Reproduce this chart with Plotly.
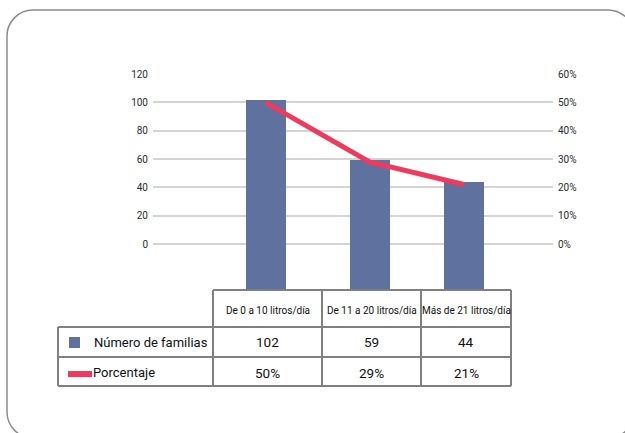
import plotly.graph_objects as go

# ---- data -------------------------------------------------------------
categorias = ["De 0 a 10 litros/día", "De 11 a 20 litros/día", "Más de 21 litros/día"]
familias = [102, 59, 44]
porcentaje = [50, 29, 21]
ticks_familias = [0, 20, 40, 60, 80, 100, 120]
ticks_porcentaje = [0, 10, 20, 30, 40, 50, 60]
series = ["Número de familias", "Porcentaje"]

# ---- layout constants (pixels) ---------------------------------------
W, H = 625, 433
BAR_COLOR = "#5f729f"
LINE_COLOR = "#ef3a5d"
GRID_COLOR = "#d4d4d4"
TABLE_LINE = "#808080"
FONT = "Roboto"


def px(x):
    return x / W


def py(y):
    return 1 - y / H


plot_left, plot_right = 153, 553
plot_top, plot_bottom = 74, 290
zero_px = 244

col_edges = [58, 213, 322, 421, 511]
row_edges = [290, 327, 357, 386]
col_centers = [(col_edges[i + 1] + col_edges[i + 2]) / 2 for i in range(len(categorias))]
bar_x = [c - 2 for c in col_centers]

# value axis: top tick at plot_top, zero at zero_px, bars run down to the table
y_top = ticks_familias[-1]
y_lo = -y_top * (plot_bottom - zero_px) / (zero_px - plot_top)
y2_top = ticks_porcentaje[-1]
y2_lo = y_lo * y2_top / y_top

fig = go.Figure()

fig.add_trace(go.Bar(
    x=bar_x,
    y=[v - y_lo for v in familias],
    base=y_lo,
    width=40,
    marker=dict(color=BAR_COLOR, line=dict(width=0)),
    name=series[0],
    customdata=familias,
    hovertemplate="%{customdata}<extra></extra>",
))

fig.add_trace(go.Scatter(
    x=bar_x,
    y=porcentaje,
    yaxis="y2",
    mode="lines",
    line=dict(color=LINE_COLOR, width=5),
    name=series[1],
    hovertemplate="%{y}%<extra></extra>",
))

shapes = []


def hline(x0, x1, y):
    shapes.append(dict(type="line", xref="paper", yref="paper",
                       x0=px(x0), x1=px(x1), y0=py(y), y1=py(y),
                       line=dict(color=TABLE_LINE, width=2)))


def vline(x, y0, y1):
    shapes.append(dict(type="line", xref="paper", yref="paper",
                       x0=px(x), x1=px(x), y0=py(y0), y1=py(y1),
                       line=dict(color=TABLE_LINE, width=2)))


# table grid: header row has no label cell
hline(col_edges[1], col_edges[-1], row_edges[0])
for r in row_edges[1:]:
    hline(col_edges[0], col_edges[-1], r)
vline(col_edges[0], row_edges[1], row_edges[-1])
for c in col_edges[1:]:
    vline(c, row_edges[0], row_edges[-1])

# legend keys inside the table
shapes.append(dict(type="rect", xref="paper", yref="paper",
                   x0=px(69), x1=px(80), y0=py(348), y1=py(337),
                   fillcolor=BAR_COLOR, line=dict(width=0)))
shapes.append(dict(type="rect", xref="paper", yref="paper",
                   x0=px(68), x1=px(92), y0=py(377), y1=py(371),
                   fillcolor=LINE_COLOR, line=dict(width=0)))

# rounded outer frame
L, T, R, B, rad = 7, 10, 634, 438, 26
k = rad * 0.5523


def P(x, y):
    return f"{px(x):.5f},{py(y):.5f}"


frame = (
    f"M {P(L + rad, T)} L {P(R - rad, T)} "
    f"C {P(R - rad + k, T)} {P(R, T + rad - k)} {P(R, T + rad)} "
    f"L {P(R, B - rad)} "
    f"C {P(R, B - rad + k)} {P(R - rad + k, B)} {P(R - rad, B)} "
    f"L {P(L + rad, B)} "
    f"C {P(L + rad - k, B)} {P(L, B - rad + k)} {P(L, B - rad)} "
    f"L {P(L, T + rad)} "
    f"C {P(L, T + rad - k)} {P(L + rad - k, T)} {P(L + rad, T)} Z"
)
shapes.append(dict(type="path", xref="paper", yref="paper", path=frame,
                   line=dict(color="#8c8c8c", width=1.5)))

annotations = []


def text(x, y, s, size, anchor="center"):
    annotations.append(dict(xref="paper", yref="paper", x=px(x), y=py(y),
                            text=s, showarrow=False, xanchor=anchor,
                            yanchor="middle",
                            font=dict(family=FONT, size=size, color="#111111")))


hdr_y = (row_edges[0] + row_edges[1]) / 2
r1_y = (row_edges[1] + row_edges[2]) / 2
r2_y = (row_edges[2] + row_edges[3]) / 2
for cx, cat, n, p in zip(col_centers, categorias, familias, porcentaje):
    text(cx, hdr_y + 1.5, cat, 10)
    text(cx, r1_y, str(n), 13.5)
    text(cx, r2_y + 1, f"{p}%", 13.5)
text(92, r1_y, series[0], 13, "left")
text(91, r2_y + 1, series[1], 13, "left")

tick_font = dict(family=FONT, size=10, color="#2b2b2b")

fig.update_layout(
    width=W, height=H,
    margin=dict(l=0, r=0, t=0, b=0),
    paper_bgcolor="white",
    plot_bgcolor="white",
    showlegend=False,
    bargap=0,
    xaxis=dict(domain=[px(plot_left), px(plot_right)],
               range=[plot_left, plot_right], visible=False,
               fixedrange=True),
    yaxis=dict(domain=[py(plot_bottom), py(plot_top)],
               range=[y_lo, y_top],
               tickmode="array",
               tickvals=ticks_familias,
               ticktext=[str(t) for t in ticks_familias],
               showgrid=True, gridcolor=GRID_COLOR, gridwidth=2,
               zeroline=False, showline=False, ticks="",
               ticklabelstandoff=4, automargin=False,
               tickfont=tick_font),
    yaxis2=dict(overlaying="y", side="right",
                range=[y2_lo, y2_top],
                tickmode="array",
                tickvals=ticks_porcentaje,
                ticktext=[f"{t}%" for t in ticks_porcentaje],
                showgrid=False, zeroline=False, showline=False, ticks="",
                ticklabelstandoff=4, automargin=False,
                tickfont=tick_font),
    shapes=shapes,
    annotations=annotations,
)

fig.write_html("out.html")
